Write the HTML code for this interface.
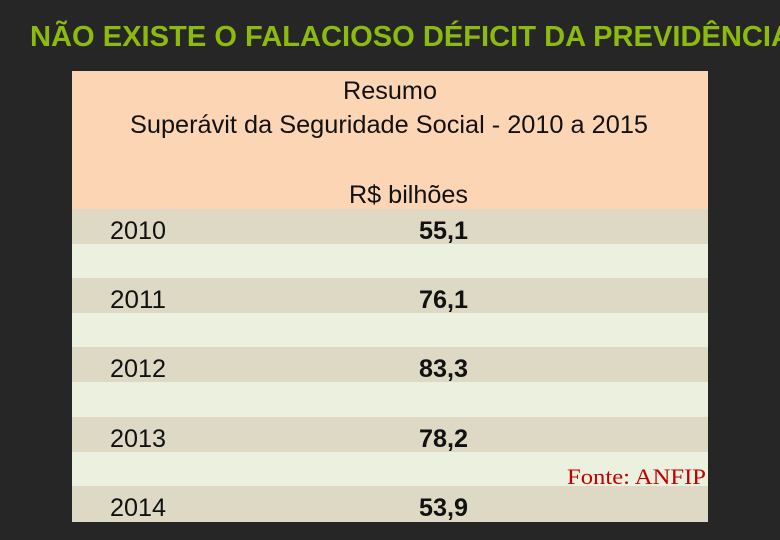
<!DOCTYPE html>
<html><head><meta charset="utf-8"><style>
html,body{margin:0;padding:0;background:#262626;}
svg{display:block;}
</style></head><body>
<svg id="chart" width="780" height="540" xmlns="http://www.w3.org/2000/svg">
<rect x="0" y="0" width="780" height="540" fill="#262626"/>
<text x="30" y="46" font-family="Liberation Sans, sans-serif" font-weight="bold" font-size="29" fill="#8cba0e" textLength="762" lengthAdjust="spacingAndGlyphs">NÃO EXISTE O FALACIOSO DÉFICIT DA PREVIDÊNCIA</text>
<rect x="72" y="71" width="636" height="138" fill="#fcd5b5"/>
<text x="390" y="99" text-anchor="middle" font-family="Liberation Sans, sans-serif" font-size="25" fill="#111" textLength="94" lengthAdjust="spacingAndGlyphs">Resumo</text>
<text x="389" y="133" text-anchor="middle" font-family="Liberation Sans, sans-serif" font-size="25" fill="#111" textLength="518" lengthAdjust="spacingAndGlyphs">Superávit da Seguridade Social - 2010 a 2015</text>
<text x="468" y="203" text-anchor="end" font-family="Liberation Sans, sans-serif" font-size="25" fill="#111" textLength="119" lengthAdjust="spacingAndGlyphs">R$ bilhões</text>
<g id="rows"></g>
<text x="706" y="484" text-anchor="end" font-family="Liberation Serif, serif" font-size="22" fill="#c00000" textLength="139" lengthAdjust="spacingAndGlyphs">Fonte: ANFIP</text>
</svg>
<script>
const years = ["2010","2011","2012","2013","2014"];
const values = [55.1, 76.1, 83.3, 78.2, 53.9];

const ns = "http://www.w3.org/2000/svg";
const g = document.getElementById("rows");
const top0 = 209, pitch = 69.2, rowH = 35;
function rowY(i){ return Math.round(top0 + i * pitch); }
const bg = document.createElementNS(ns, "rect");
bg.setAttribute("x", 72); bg.setAttribute("y", top0);
bg.setAttribute("width", 636); bg.setAttribute("height", 313);
bg.setAttribute("fill", "#ebf0df");


g.appendChild(bg);
years.forEach((yr, i) => {
  const y = rowY(i);
  const h = (i === years.length - 1) ? 522 - y : rowH;
  const dark = document.createElementNS(ns, "rect");
  dark.setAttribute("x", 72); dark.setAttribute("y", y);
  dark.setAttribute("width", 636); dark.setAttribute("height", h);
  dark.setAttribute("fill", "#ddd9c4");
  
  
  g.appendChild(dark);
  const t = document.createElementNS(ns, "text");
  t.setAttribute("x", 110); t.setAttribute("y", y + 30);
  t.setAttribute("font-family", "Liberation Sans, sans-serif");
  t.setAttribute("font-size", "25"); t.setAttribute("fill", "#111");
  t.setAttribute("textLength", "56"); t.setAttribute("lengthAdjust", "spacingAndGlyphs");
  t.textContent = yr;
  
  
  g.appendChild(t);
  const v = document.createElementNS(ns, "text");
  v.setAttribute("x", 468); v.setAttribute("y", y + 30);
  v.setAttribute("text-anchor", "end");
  v.setAttribute("font-family", "Liberation Sans, sans-serif");
  v.setAttribute("font-size", "25"); v.setAttribute("font-weight", "bold"); v.setAttribute("fill", "#111");
  v.setAttribute("textLength", "49"); v.setAttribute("lengthAdjust", "spacingAndGlyphs");
  v.textContent = values[i].toFixed(1).replace(".", ",");
  
  
  g.appendChild(v);
});
</script>
</body></html>
